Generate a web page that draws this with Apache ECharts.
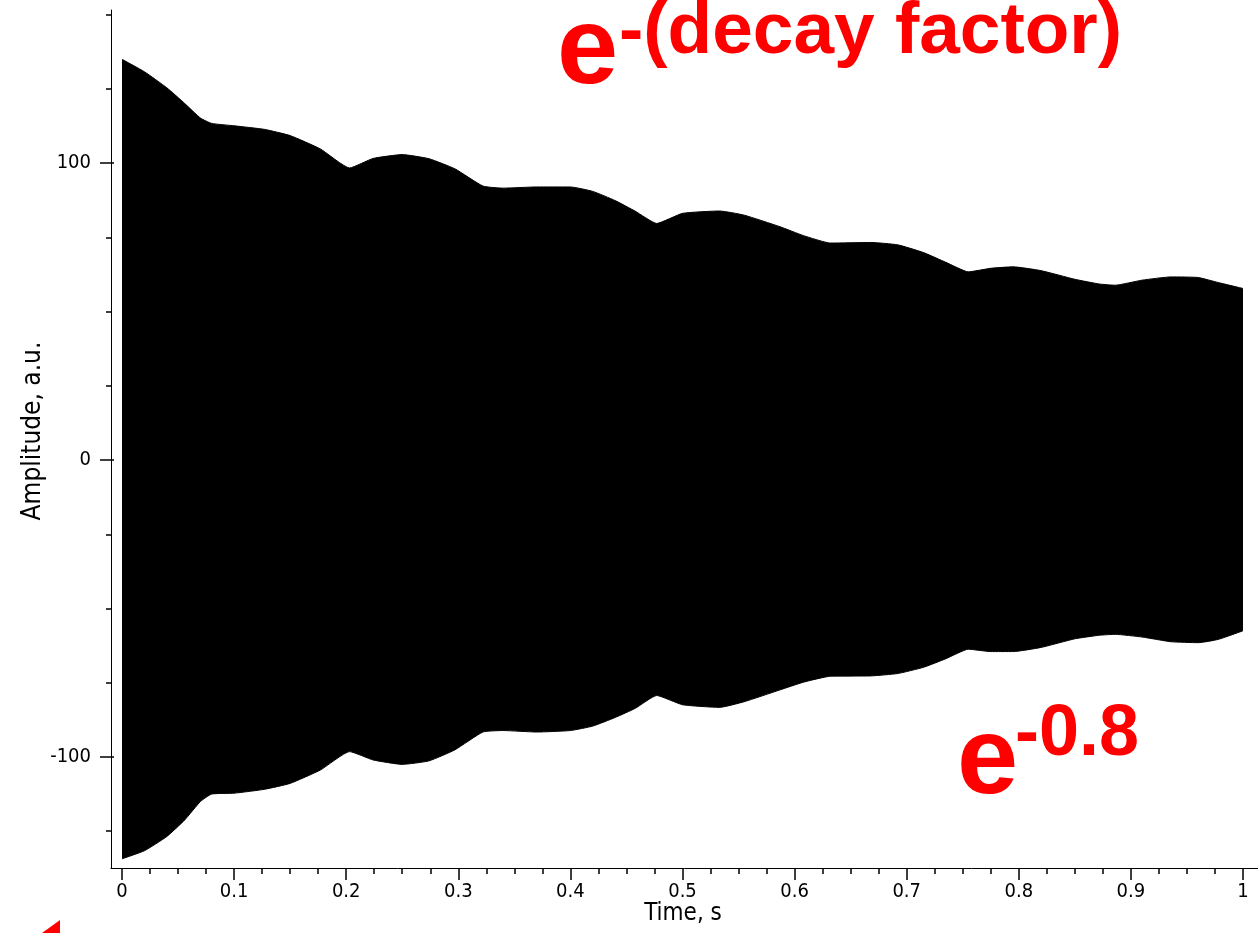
<!DOCTYPE html>
<html>
<head>
<meta charset="utf-8">
<script src="https://cdn.jsdelivr.net/npm/echarts@6/dist/echarts.min.js"></script>
<style>
html,body{margin:0;padding:0;background:#fff;}
#chart{width:1258px;height:933px;}
</style>
</head>
<body>
<div id="chart"></div>
<script>
// Time samples (s) at which the envelope of the dense oscillation was read
var time = [0, 0.02, 0.04, 0.056, 0.07, 0.08, 0.1, 0.127, 0.15, 0.177, 0.203, 0.224, 0.25, 0.274, 0.297, 0.322, 0.34, 0.37, 0.4, 0.42, 0.44, 0.458, 0.477, 0.5, 0.533, 0.555, 0.587, 0.608, 0.632, 0.668, 0.692, 0.715, 0.735, 0.755, 0.775, 0.795, 0.82, 0.85, 0.872, 0.886, 0.91, 0.936, 0.96, 0.978, 1.0];
// Upper envelope (positive peaks), a.u.
var upper = [135.0, 130.8, 125.4, 120.1, 115.2, 113.4, 112.6, 111.4, 109.3, 104.8, 98.4, 101.6, 102.9, 101.5, 98.1, 92.3, 91.6, 92.0, 92.0, 90.5, 87.4, 83.8, 79.7, 83.1, 83.9, 82.5, 78.6, 75.6, 73.1, 73.3, 72.5, 69.9, 66.6, 63.4, 64.6, 65.1, 63.8, 60.9, 59.3, 58.9, 60.6, 61.7, 61.5, 59.8, 57.8];
// Lower envelope (negative peaks), a.u.
var lower = [-134.3, -131.6, -126.8, -121.2, -115.0, -112.5, -112.2, -110.9, -108.9, -104.4, -98.2, -101.0, -102.5, -101.3, -97.6, -91.6, -91.1, -91.6, -91.1, -89.6, -86.7, -83.6, -79.3, -82.4, -83.3, -81.4, -77.4, -74.8, -72.8, -72.7, -71.9, -69.8, -66.9, -63.7, -64.5, -64.5, -63.1, -60.2, -59.0, -58.7, -59.6, -61.2, -61.5, -60.4, -57.5];

var xTickLabels = ['0', '0.1', '0.2', '0.3', '0.4', '0.5', '0.6', '0.7', '0.8', '0.9', '1'];
var xMinorTicks = [0.025, 0.05, 0.075, 0.125, 0.15, 0.175, 0.225, 0.25, 0.275, 0.325, 0.35, 0.375, 0.425, 0.45, 0.475, 0.525, 0.55, 0.575, 0.625, 0.65, 0.675, 0.725, 0.75, 0.775, 0.825, 0.85, 0.875, 0.925, 0.95, 0.975];
var yTickLabels = ['-100', '0', '100'];
var yMinorTicks = [-125, -75, -50, -25, 25, 50, 75, 125, 150];

var xTitle = 'Time, s';
var yTitle = 'Amplitude, a.u.';

var upperData = time.map(function (t, i) { return [t, upper[i]]; });
var lowerData = time.map(function (t, i) { return [t, lower[i]]; });
var xMajor = xTickLabels.map(parseFloat);
var yMajor = yTickLabels.map(parseFloat);

var FONT = '"DejaVu Sans Condensed", "DejaVu Sans", sans-serif';
var RED_FONT = '"Liberation Sans", Arial, sans-serif';

var chart = echarts.init(document.getElementById('chart'), null, {renderer: 'canvas'});

var xMin = -0.0098, xMax = 1.0134;
var yMin = -137.4, yMax = 151.6;

function hiddenAxis(extra) {
  var a = {
    type: 'value', gridIndex: 0,
    axisLine: {show: false, onZero: false},
    axisLabel: {show: false},
    splitLine: {show: false}
  };
  for (var k in extra) a[k] = extra[k];
  return a;
}

var option = {
  animation: false,
  backgroundColor: '#ffffff',
  grid: {left: 111, right: 0, top: 10, bottom: 65, containLabel: false, outerBoundsMode: 'none'},
  xAxis: [
    {
      type: 'value', min: xMin, max: xMax, position: 'bottom',
      axisLine: {show: true, onZero: false, lineStyle: {color: '#000', width: 1}},
      axisTick: {show: true, customValues: xMajor, length: 12, lineStyle: {color: '#000', width: 1.5}},
      axisLabel: {show: true, customValues: xMajor, margin: 14, color: '#000', fontFamily: FONT, fontSize: 20,
        formatter: function (v) { return String(Number(v.toFixed(3))); }},
      splitLine: {show: false}
    },
    hiddenAxis({min: xMin, max: xMax, position: 'bottom',
      axisTick: {show: true, customValues: xMinorTicks, length: 6, lineStyle: {color: '#000', width: 1.5}}})
  ],
  yAxis: [
    {
      type: 'value', min: yMin, max: yMax, position: 'left',
      axisLine: {show: true, onZero: false, lineStyle: {color: '#000', width: 1}},
      axisTick: {show: true, customValues: yMajor, length: 11, lineStyle: {color: '#000', width: 1.5}},
      axisLabel: {show: true, customValues: yMajor, margin: 20, color: '#000', fontFamily: FONT, fontSize: 20,
        formatter: function (v) { return String(Math.round(v)); }},
      splitLine: {show: false}
    },
    hiddenAxis({min: yMin, max: yMax, position: 'left',
      axisTick: {show: true, customValues: yMinorTicks, length: 5, lineStyle: {color: '#000', width: 1.5}}}),
    hiddenAxis({min: yMin, max: yMax, position: 'left',
      axisTick: {show: true, inside: true, customValues: yMajor, length: 3, lineStyle: {color: '#000', width: 1.5}}})
  ],
  series: [
    {
      type: 'line', name: 'upper', xAxisIndex: 0, yAxisIndex: 0,
      data: upperData, showSymbol: false, symbol: 'none', smooth: 0.15,
      lineStyle: {color: '#000', width: 1},
      areaStyle: {color: '#000', opacity: 1, origin: 0}
    },
    {
      type: 'line', name: 'lower', xAxisIndex: 0, yAxisIndex: 0,
      data: lowerData, showSymbol: false, symbol: 'none', smooth: 0.15,
      lineStyle: {color: '#000', width: 1},
      areaStyle: {color: '#000', opacity: 1, origin: 0}
    }
  ],
  graphic: [
    {type: 'text', x: 683, y: 914, style: {text: xTitle, fill: '#000', font: '24px ' + FONT, align: 'center', verticalAlign: 'middle'}},
    {type: 'text', x: 33, y: 431, rotation: Math.PI / 2, style: {text: yTitle, fill: '#000', font: '26px ' + FONT, align: 'center', verticalAlign: 'middle'}},
    {type: 'text', x: 557, y: 53, style: {text: 'e', fill: '#ff0000', font: 'bold 110px ' + RED_FONT, align: 'left', verticalAlign: 'middle'}},
    {type: 'text', x: 619, y: 33, style: {text: '-(decay factor)', fill: '#ff0000', font: 'bold 73px ' + RED_FONT, align: 'left', verticalAlign: 'middle'}},
    {type: 'text', x: 957, y: 763, style: {text: 'e', fill: '#ff0000', font: 'bold 110px ' + RED_FONT, align: 'left', verticalAlign: 'middle'}},
    {type: 'text', x: 1015, y: 735, style: {text: '-0.8', fill: '#ff0000', font: 'bold 72px ' + RED_FONT, align: 'left', verticalAlign: 'middle'}},
    {type: 'polygon', shape: {points: [[60, 920], [60, 933], [42, 933]]}, style: {fill: '#ff0000'}}
  ]
};
chart.setOption(option);
</script>
</body>
</html>
